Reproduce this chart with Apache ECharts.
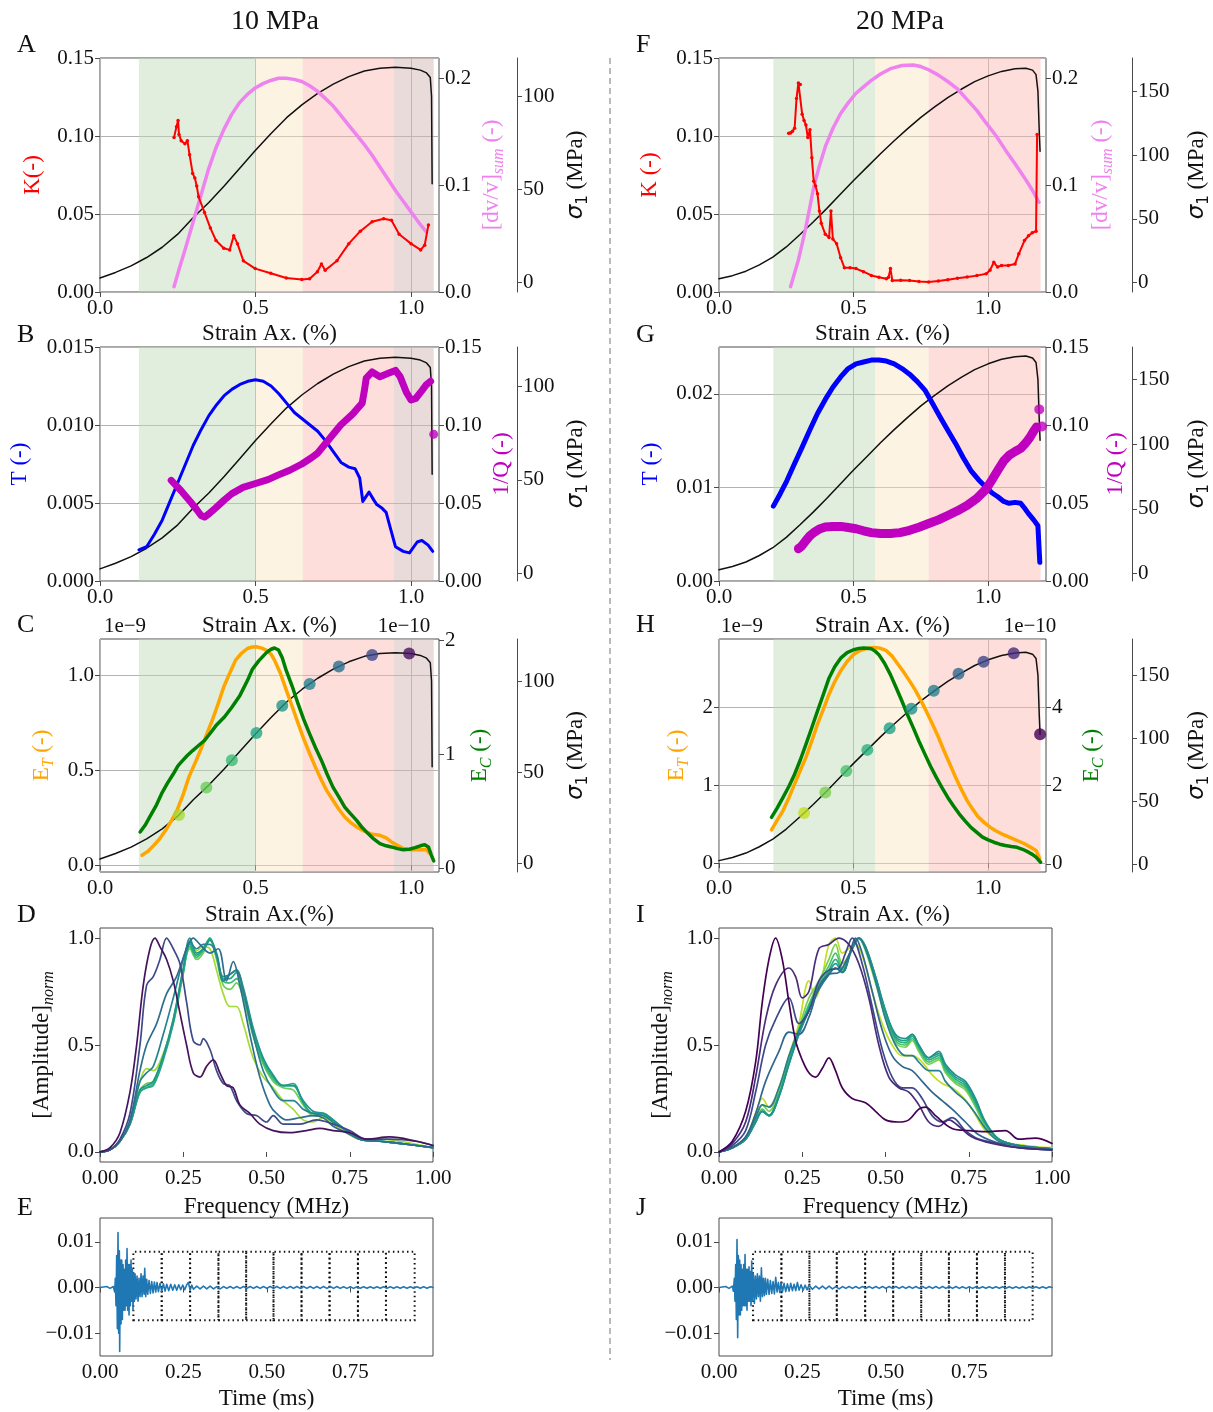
<!DOCTYPE html>
<html><head><meta charset="utf-8">
<script src="https://cdn.jsdelivr.net/npm/echarts@6/dist/echarts.min.js"></script>
<style>html,body{margin:0;padding:0;background:#fff}#c{width:1213px;height:1412px}</style>
</head><body><div id="c"></div>
<script>
// ================= DATA =================
// stress-strain (strain %, sigma1 MPa)
const sig10 = [[0,2.5],[0.05,5.5],[0.1,9],[0.15,13.5],[0.2,19],[0.25,26],[0.3,35],[0.35,43],[0.4,52],[0.45,61.5],[0.5,71],[0.55,80],[0.6,88.5],[0.65,95.5],[0.7,101.5],[0.75,106.5],[0.8,110.5],[0.85,113.5],[0.9,115],[0.95,115.5],[1.0,115],[1.03,114],[1.05,112.5],[1.062,110],[1.066,100],[1.068,53]];
const sig20 = [[0,3],[0.05,5.5],[0.1,9],[0.15,14],[0.2,20],[0.25,28],[0.3,37.5],[0.35,47.5],[0.4,58],[0.45,69],[0.5,80],[0.55,90.5],[0.6,101],[0.65,111],[0.7,120.5],[0.75,129.5],[0.8,137.5],[0.85,145],[0.9,151.5],[0.95,157.5],[1.0,162],[1.05,165.5],[1.1,167.5],[1.14,168],[1.165,166.5],[1.178,163],[1.185,150],[1.19,118],[1.193,103]];
const dots10 = [[0.254,26.6],[0.342,41.7],[0.424,56.6],[0.503,71.5],[0.586,86.5],[0.674,98.4],[0.768,108],[0.875,114.3],[0.994,115.1]];
const dots20 = [[0.316,40.7],[0.395,57],[0.473,74],[0.551,90.7],[0.634,107.8],[0.715,123.2],[0.798,137.5],[0.89,151],[0.983,160.5],[1.095,167.3],[1.193,103]];
// stage spans (strain start, end, stage)
const spans10 = [[0.125,0.5,'g'],[0.5,0.652,'y'],[0.652,0.944,'r'],[0.944,1.073,'b']];
const spans20 = [[0.202,0.58,'g'],[0.58,0.779,'y'],[0.779,1.195,'r']];
// panel A / F
const K10 = [[0.238,0.099],[0.246,0.106],[0.251,0.11],[0.254,0.101],[0.261,0.097],[0.273,0.095],[0.281,0.097],[0.288,0.088],[0.298,0.076],[0.305,0.073],[0.311,0.068],[0.317,0.061],[0.336,0.051],[0.355,0.041],[0.373,0.033],[0.398,0.028],[0.417,0.027],[0.43,0.036],[0.442,0.031],[0.461,0.02],[0.499,0.015],[0.549,0.012],[0.599,0.009],[0.649,0.008],[0.674,0.0085],[0.699,0.013],[0.712,0.018],[0.724,0.014],[0.762,0.02],[0.8,0.031],[0.837,0.039],[0.875,0.045],[0.912,0.047],[0.937,0.046],[0.962,0.037],[1.0,0.031],[1.031,0.027],[1.044,0.03],[1.056,0.043]];
const dvv10 = [[0.238,0.005],[0.255,0.022],[0.273,0.039],[0.292,0.058],[0.311,0.077],[0.33,0.096],[0.348,0.114],[0.373,0.135],[0.398,0.152],[0.423,0.166],[0.448,0.177],[0.474,0.185],[0.499,0.191],[0.524,0.195],[0.549,0.198],[0.574,0.2],[0.599,0.2],[0.624,0.199],[0.649,0.197],[0.674,0.193],[0.699,0.188],[0.725,0.181],[0.75,0.174],[0.775,0.165],[0.8,0.156],[0.825,0.147],[0.85,0.138],[0.875,0.128],[0.9,0.117],[0.925,0.106],[0.95,0.095],[0.975,0.085],[1.0,0.075],[1.025,0.065],[1.05,0.056]];
const K20 = [[0.259,0.1017],[0.266,0.102],[0.273,0.103],[0.281,0.105],[0.288,0.124],[0.295,0.134],[0.302,0.133],[0.309,0.114],[0.316,0.11],[0.323,0.107],[0.33,0.099],[0.338,0.104],[0.345,0.086],[0.352,0.071],[0.359,0.068],[0.366,0.063],[0.373,0.052],[0.38,0.044],[0.395,0.037],[0.409,0.035],[0.416,0.052],[0.423,0.034],[0.437,0.031],[0.452,0.022],[0.466,0.0155],[0.487,0.0155],[0.509,0.015],[0.537,0.013],[0.566,0.0106],[0.594,0.0095],[0.622,0.0085],[0.63,0.0095],[0.637,0.015],[0.644,0.0074],[0.675,0.0075],[0.708,0.0074],[0.743,0.0068],[0.779,0.0064],[0.815,0.007],[0.85,0.0079],[0.886,0.0088],[0.922,0.0096],[0.958,0.0105],[0.993,0.0117],[1.007,0.014],[1.021,0.019],[1.035,0.016],[1.05,0.017],[1.075,0.017],[1.1,0.018],[1.114,0.0245],[1.135,0.033],[1.15,0.036],[1.164,0.038],[1.178,0.039],[1.182,0.101]];
const dvv20 = [[0.266,0.005],[0.28,0.017],[0.295,0.03],[0.309,0.045],[0.323,0.061],[0.338,0.08],[0.352,0.098],[0.373,0.118],[0.395,0.136],[0.423,0.153],[0.452,0.167],[0.48,0.177],[0.509,0.186],[0.537,0.192],[0.566,0.198],[0.6,0.204],[0.637,0.209],[0.68,0.212],[0.722,0.2125],[0.75,0.211],[0.779,0.208],[0.815,0.203],[0.85,0.197],[0.886,0.19],[0.922,0.18],[0.958,0.17],[0.993,0.158],[1.03,0.146],[1.064,0.133],[1.1,0.12],[1.135,0.107],[1.165,0.095],[1.189,0.084]];
// panel B / G
const T10 = [[0.125,0.002],[0.15,0.0022],[0.175,0.003],[0.2,0.0039],[0.225,0.0051],[0.25,0.0063],[0.275,0.0075],[0.3,0.0087],[0.325,0.0097],[0.35,0.0106],[0.375,0.0113],[0.4,0.0119],[0.425,0.0123],[0.45,0.0126],[0.475,0.0128],[0.5,0.0129],[0.525,0.0128],[0.55,0.0125],[0.575,0.012],[0.6,0.0114],[0.625,0.0108],[0.65,0.0104],[0.675,0.01],[0.7,0.0096],[0.725,0.009],[0.75,0.0083],[0.775,0.0076],[0.8,0.0073],[0.82,0.0072],[0.835,0.0066],[0.845,0.0051],[0.865,0.0057],[0.88,0.0052],[0.89,0.0049],[0.905,0.0047],[0.92,0.0044],[0.935,0.0033],[0.95,0.0022],[0.975,0.0019],[0.995,0.0018],[1.02,0.0025],[1.035,0.0026],[1.055,0.0023],[1.07,0.0019]];
const IQ10 = [[0.229,0.0645],[0.26,0.058],[0.29,0.051],[0.31,0.046],[0.325,0.042],[0.336,0.041],[0.35,0.043],[0.373,0.047],[0.4,0.052],[0.424,0.056],[0.46,0.06],[0.5,0.0625],[0.54,0.065],[0.574,0.068],[0.61,0.071],[0.649,0.075],[0.68,0.079],[0.7,0.082],[0.737,0.091],[0.774,0.1],[0.812,0.107],[0.843,0.114],[0.85,0.122],[0.856,0.13],[0.875,0.134],[0.9,0.131],[0.925,0.133],[0.95,0.135],[0.965,0.131],[0.985,0.121],[1.0,0.116],[1.015,0.117],[1.035,0.122],[1.05,0.126],[1.063,0.128]];
const IQ10end = [[1.073,0.094]];
const T20 = [[0.202,0.008],[0.227,0.0093],[0.252,0.0107],[0.28,0.0125],[0.309,0.0143],[0.337,0.0161],[0.366,0.0179],[0.395,0.0194],[0.423,0.0207],[0.452,0.0218],[0.48,0.0227],[0.509,0.0232],[0.537,0.0234],[0.566,0.0236],[0.594,0.0236],[0.622,0.0235],[0.651,0.0232],[0.68,0.0227],[0.708,0.0221],[0.737,0.0213],[0.765,0.0204],[0.793,0.019],[0.822,0.0175],[0.85,0.0161],[0.879,0.0147],[0.907,0.0132],[0.936,0.0118],[0.965,0.0108],[0.993,0.01],[1.015,0.0094],[1.036,0.009],[1.058,0.0085],[1.078,0.0083],[1.1,0.0084],[1.121,0.0083],[1.135,0.0078],[1.15,0.0072],[1.17,0.0065],[1.185,0.0059],[1.192,0.002]];
const IQ20 = [[0.295,0.0207],[0.305,0.022],[0.323,0.026],[0.338,0.029],[0.352,0.031],[0.373,0.0333],[0.395,0.0346],[0.423,0.035],[0.452,0.035],[0.48,0.0343],[0.509,0.0335],[0.537,0.0322],[0.566,0.031],[0.6,0.0305],[0.637,0.0305],[0.672,0.031],[0.708,0.0325],[0.743,0.0345],[0.779,0.0368],[0.815,0.0392],[0.85,0.042],[0.886,0.045],[0.922,0.0485],[0.958,0.053],[0.993,0.059],[1.015,0.065],[1.036,0.071],[1.058,0.077],[1.078,0.0806],[1.1,0.083],[1.121,0.085],[1.14,0.0885],[1.155,0.092],[1.171,0.0966],[1.18,0.0987]];
const IQ20end = [[1.19,0.11],[1.2,0.099]];
// panel C / H (x1e-9 and x1e-10)
const ET10 = [[0.135,0.053],[0.155,0.075],[0.173,0.105],[0.192,0.14],[0.211,0.184],[0.23,0.235],[0.248,0.29],[0.267,0.37],[0.286,0.465],[0.305,0.535],[0.323,0.605],[0.342,0.685],[0.361,0.763],[0.38,0.85],[0.398,0.939],[0.417,1.01],[0.436,1.079],[0.455,1.115],[0.474,1.14],[0.49,1.148],[0.503,1.149],[0.52,1.142],[0.536,1.13],[0.55,1.11],[0.561,1.079],[0.58,1.01],[0.599,0.921],[0.618,0.835],[0.637,0.746],[0.655,0.665],[0.674,0.588],[0.693,0.515],[0.712,0.447],[0.73,0.39],[0.749,0.342],[0.768,0.295],[0.787,0.254],[0.806,0.225],[0.825,0.202],[0.85,0.18],[0.875,0.163],[0.9,0.158],[0.92,0.145],[0.937,0.123],[0.956,0.105],[0.975,0.088],[1.0,0.082],[1.025,0.082],[1.05,0.082],[1.058,0.065]];
const EC10 = [[0.129,0.321],[0.145,0.38],[0.16,0.453],[0.18,0.55],[0.198,0.657],[0.217,0.75],[0.236,0.832],[0.25,0.9],[0.261,0.934],[0.28,0.99],[0.298,1.036],[0.317,1.08],[0.336,1.124],[0.355,1.19],[0.373,1.255],[0.4,1.33],[0.424,1.416],[0.45,1.52],[0.474,1.65],[0.49,1.75],[0.511,1.825],[0.536,1.898],[0.55,1.925],[0.561,1.936],[0.574,1.918],[0.586,1.85],[0.599,1.737],[0.618,1.6],[0.637,1.445],[0.655,1.31],[0.674,1.182],[0.693,1.06],[0.712,0.949],[0.73,0.83],[0.749,0.715],[0.768,0.63],[0.787,0.54],[0.806,0.48],[0.825,0.423],[0.843,0.36],[0.862,0.307],[0.88,0.26],[0.9,0.219],[0.92,0.2],[0.937,0.19],[0.956,0.175],[0.975,0.166],[0.995,0.17],[1.013,0.184],[1.03,0.2],[1.044,0.21],[1.056,0.19],[1.065,0.12],[1.073,0.067]];
const ET20 = [[0.195,0.427],[0.216,0.55],[0.238,0.675],[0.26,0.84],[0.281,1.017],[0.302,1.19],[0.323,1.359],[0.345,1.57],[0.366,1.786],[0.388,1.98],[0.409,2.171],[0.43,2.33],[0.452,2.47],[0.476,2.59],[0.5,2.68],[0.52,2.725],[0.537,2.748],[0.558,2.765],[0.58,2.77],[0.6,2.76],[0.622,2.73],[0.643,2.66],[0.665,2.556],[0.686,2.455],[0.708,2.342],[0.73,2.22],[0.751,2.085],[0.772,1.94],[0.793,1.786],[0.815,1.62],[0.836,1.444],[0.858,1.27],[0.879,1.103],[0.9,0.95],[0.922,0.803],[0.943,0.69],[0.964,0.59],[0.986,0.52],[1.007,0.462],[1.028,0.415],[1.05,0.376],[1.072,0.343],[1.093,0.312],[1.114,0.28],[1.135,0.248],[1.157,0.205],[1.178,0.162],[1.192,0.056]];
const EC20 = [[0.195,1.186],[0.216,1.42],[0.238,1.695],[0.26,1.98],[0.281,2.288],[0.302,2.65],[0.323,3.05],[0.345,3.48],[0.366,3.9],[0.388,4.33],[0.409,4.746],[0.43,5.03],[0.452,5.25],[0.476,5.39],[0.5,5.466],[0.52,5.5],[0.537,5.508],[0.55,5.505],[0.566,5.49],[0.58,5.43],[0.594,5.34],[0.615,5.12],[0.637,4.83],[0.658,4.5],[0.68,4.15],[0.7,3.81],[0.722,3.47],[0.743,3.13],[0.765,2.8],[0.786,2.49],[0.808,2.2],[0.829,1.94],[0.85,1.695],[0.872,1.47],[0.893,1.27],[0.915,1.09],[0.936,0.93],[0.958,0.8],[0.979,0.68],[1.0,0.61],[1.021,0.55],[1.043,0.5],[1.064,0.466],[1.086,0.44],[1.107,0.42],[1.128,0.37],[1.15,0.297],[1.164,0.24],[1.178,0.17],[1.195,0.04]];
// panel D spectra (MHz, normalised amplitude), first window -> last window
const specD = [
 [[0,0],[0.03,0.01],[0.06,0.05],[0.09,0.14],[0.12,0.33],[0.14,0.39],[0.16,0.38],[0.19,0.46],[0.22,0.6],[0.25,0.83],[0.27,0.99],[0.29,0.94],[0.31,0.96],[0.33,0.95],[0.35,0.85],[0.37,0.74],[0.39,0.68],[0.41,0.68],[0.43,0.6],[0.46,0.44],[0.49,0.35],[0.52,0.3],[0.55,0.24],[0.58,0.2],[0.61,0.15],[0.64,0.14],[0.67,0.16],[0.7,0.13],[0.74,0.09],[0.78,0.06],[0.84,0.06],[0.9,0.05],[1.0,0.02]],
 [[0,0],[0.03,0.01],[0.06,0.05],[0.09,0.13],[0.12,0.29],[0.14,0.32],[0.16,0.33],[0.19,0.45],[0.22,0.62],[0.25,0.85],[0.27,0.95],[0.29,0.9],[0.31,0.93],[0.33,1.0],[0.35,0.9],[0.37,0.78],[0.39,0.76],[0.41,0.79],[0.43,0.72],[0.46,0.54],[0.49,0.41],[0.52,0.33],[0.55,0.3],[0.58,0.29],[0.61,0.22],[0.64,0.17],[0.67,0.17],[0.7,0.14],[0.74,0.1],[0.78,0.06],[0.84,0.05],[0.9,0.04],[1.0,0.02]],
 [[0,0],[0.03,0.01],[0.06,0.05],[0.09,0.13],[0.12,0.28],[0.14,0.3],[0.16,0.32],[0.19,0.44],[0.22,0.61],[0.25,0.84],[0.27,0.96],[0.29,0.91],[0.31,0.94],[0.33,0.99],[0.35,0.91],[0.37,0.8],[0.39,0.79],[0.41,0.81],[0.43,0.74],[0.46,0.55],[0.49,0.42],[0.52,0.34],[0.55,0.31],[0.58,0.31],[0.61,0.23],[0.64,0.18],[0.67,0.18],[0.7,0.14],[0.74,0.1],[0.78,0.06],[0.84,0.05],[0.9,0.04],[1.0,0.02]],
 [[0,0],[0.03,0.01],[0.06,0.05],[0.09,0.13],[0.12,0.28],[0.14,0.3],[0.16,0.31],[0.19,0.43],[0.22,0.6],[0.25,0.84],[0.27,0.97],[0.29,0.92],[0.31,0.95],[0.33,1.0],[0.35,0.92],[0.37,0.81],[0.39,0.81],[0.41,0.84],[0.43,0.76],[0.46,0.57],[0.49,0.43],[0.52,0.35],[0.55,0.31],[0.58,0.32],[0.61,0.23],[0.64,0.18],[0.67,0.18],[0.7,0.15],[0.74,0.1],[0.78,0.06],[0.84,0.05],[0.9,0.04],[1.0,0.02]],
 [[0,0],[0.03,0.01],[0.06,0.05],[0.09,0.13],[0.12,0.29],[0.14,0.31],[0.16,0.33],[0.19,0.45],[0.22,0.62],[0.25,0.86],[0.27,1.0],[0.29,0.93],[0.31,0.95],[0.33,0.99],[0.35,0.93],[0.37,0.82],[0.39,0.83],[0.41,0.85],[0.43,0.77],[0.46,0.58],[0.49,0.44],[0.52,0.36],[0.55,0.31],[0.58,0.31],[0.61,0.24],[0.64,0.19],[0.67,0.18],[0.7,0.15],[0.74,0.1],[0.78,0.06],[0.84,0.05],[0.9,0.04],[1.0,0.02]],
 [[0,0],[0.03,0.01],[0.06,0.05],[0.09,0.14],[0.12,0.33],[0.14,0.37],[0.16,0.4],[0.19,0.55],[0.22,0.72],[0.25,0.9],[0.27,0.98],[0.29,0.95],[0.31,0.97],[0.33,0.97],[0.35,0.92],[0.37,0.8],[0.39,0.83],[0.41,0.85],[0.43,0.75],[0.46,0.55],[0.49,0.38],[0.52,0.29],[0.55,0.24],[0.58,0.24],[0.61,0.2],[0.64,0.18],[0.67,0.17],[0.7,0.14],[0.74,0.1],[0.78,0.06],[0.84,0.05],[0.9,0.04],[1.0,0.02]],
 [[0,0],[0.03,0.01],[0.06,0.05],[0.09,0.15],[0.12,0.38],[0.14,0.5],[0.17,0.6],[0.2,0.74],[0.23,0.82],[0.26,0.95],[0.28,1.0],[0.3,0.97],[0.33,0.93],[0.355,0.95],[0.38,0.8],[0.4,0.89],[0.42,0.78],[0.45,0.55],[0.48,0.35],[0.51,0.22],[0.53,0.18],[0.56,0.15],[0.6,0.16],[0.64,0.17],[0.67,0.16],[0.7,0.12],[0.74,0.09],[0.78,0.06],[0.84,0.05],[0.9,0.04],[1.0,0.02]],
 [[0,0],[0.03,0.01],[0.06,0.06],[0.09,0.18],[0.12,0.5],[0.14,0.78],[0.16,0.82],[0.18,0.9],[0.2,1.0],[0.22,0.95],[0.24,0.88],[0.26,0.7],[0.28,0.52],[0.3,0.5],[0.31,0.53],[0.33,0.48],[0.35,0.38],[0.37,0.32],[0.39,0.31],[0.41,0.24],[0.44,0.18],[0.47,0.17],[0.5,0.14],[0.52,0.17],[0.55,0.13],[0.6,0.13],[0.65,0.15],[0.7,0.13],[0.75,0.1],[0.8,0.06],[0.87,0.06],[0.95,0.05],[1.0,0.03]],
 [[0,0],[0.03,0.02],[0.06,0.09],[0.09,0.28],[0.11,0.5],[0.13,0.78],[0.15,0.95],[0.165,1.0],[0.18,0.96],[0.2,0.9],[0.22,0.8],[0.24,0.65],[0.26,0.5],[0.28,0.37],[0.3,0.35],[0.32,0.4],[0.34,0.43],[0.36,0.37],[0.38,0.31],[0.4,0.3],[0.42,0.22],[0.45,0.18],[0.48,0.13],[0.52,0.1],[0.57,0.09],[0.62,0.1],[0.66,0.11],[0.7,0.1],[0.75,0.09],[0.8,0.06],[0.87,0.07],[0.95,0.05],[1.0,0.03]]
];
// panel I spectra
const specI = [
 [[0,0],[0.04,0.02],[0.08,0.07],[0.11,0.18],[0.13,0.25],[0.15,0.21],[0.18,0.3],[0.21,0.45],[0.24,0.6],[0.27,0.8],[0.29,0.72],[0.31,0.82],[0.33,0.97],[0.35,1.0],[0.37,0.93],[0.39,0.95],[0.41,0.97],[0.43,0.92],[0.46,0.75],[0.49,0.6],[0.52,0.5],[0.55,0.45],[0.58,0.45],[0.61,0.42],[0.64,0.36],[0.67,0.32],[0.7,0.3],[0.73,0.26],[0.76,0.2],[0.8,0.1],[0.85,0.05],[0.92,0.03],[1.0,0.02]],
 [[0,0],[0.04,0.02],[0.08,0.06],[0.11,0.15],[0.13,0.22],[0.15,0.19],[0.18,0.28],[0.21,0.44],[0.24,0.58],[0.27,0.72],[0.3,0.8],[0.33,0.9],[0.35,0.97],[0.37,0.88],[0.4,0.95],[0.42,1.0],[0.44,0.94],[0.47,0.79],[0.5,0.63],[0.53,0.51],[0.56,0.49],[0.58,0.52],[0.6,0.47],[0.63,0.41],[0.66,0.43],[0.68,0.37],[0.71,0.32],[0.74,0.29],[0.77,0.21],[0.8,0.12],[0.84,0.06],[0.9,0.03],[1.0,0.015]],
 [[0,0],[0.04,0.02],[0.08,0.06],[0.11,0.14],[0.13,0.2],[0.15,0.17],[0.18,0.27],[0.21,0.43],[0.24,0.57],[0.27,0.69],[0.3,0.79],[0.33,0.87],[0.35,0.93],[0.37,0.86],[0.4,0.95],[0.42,1.0],[0.44,0.95],[0.47,0.8],[0.5,0.64],[0.53,0.52],[0.56,0.5],[0.58,0.53],[0.6,0.48],[0.63,0.42],[0.66,0.44],[0.68,0.38],[0.71,0.33],[0.74,0.3],[0.77,0.22],[0.8,0.13],[0.84,0.06],[0.9,0.03],[1.0,0.015]],
 [[0,0],[0.04,0.02],[0.08,0.06],[0.11,0.14],[0.13,0.19],[0.15,0.17],[0.18,0.26],[0.21,0.42],[0.24,0.56],[0.27,0.68],[0.3,0.78],[0.33,0.85],[0.35,0.9],[0.37,0.85],[0.4,0.95],[0.42,1.0],[0.44,0.95],[0.47,0.81],[0.5,0.65],[0.53,0.53],[0.56,0.51],[0.58,0.54],[0.6,0.49],[0.63,0.43],[0.66,0.45],[0.68,0.39],[0.71,0.34],[0.74,0.31],[0.77,0.23],[0.8,0.13],[0.84,0.06],[0.9,0.03],[1.0,0.015]],
 [[0,0],[0.04,0.02],[0.08,0.06],[0.11,0.14],[0.13,0.19],[0.15,0.17],[0.18,0.26],[0.21,0.41],[0.24,0.55],[0.27,0.67],[0.3,0.77],[0.33,0.84],[0.35,0.88],[0.37,0.84],[0.4,0.96],[0.42,1.0],[0.44,0.96],[0.47,0.82],[0.5,0.66],[0.53,0.54],[0.56,0.52],[0.58,0.55],[0.6,0.5],[0.63,0.44],[0.66,0.46],[0.68,0.4],[0.71,0.35],[0.74,0.32],[0.77,0.24],[0.8,0.14],[0.84,0.06],[0.9,0.03],[1.0,0.015]],
 [[0,0],[0.04,0.02],[0.08,0.06],[0.11,0.14],[0.13,0.19],[0.15,0.17],[0.18,0.26],[0.21,0.41],[0.24,0.55],[0.27,0.66],[0.3,0.76],[0.33,0.83],[0.35,0.86],[0.37,0.84],[0.4,0.96],[0.42,1.0],[0.44,0.96],[0.47,0.82],[0.5,0.66],[0.53,0.55],[0.56,0.53],[0.58,0.55],[0.6,0.5],[0.63,0.44],[0.66,0.47],[0.68,0.41],[0.71,0.36],[0.74,0.33],[0.77,0.25],[0.8,0.14],[0.84,0.06],[0.9,0.03],[1.0,0.015]],
 [[0,0],[0.04,0.02],[0.08,0.07],[0.11,0.16],[0.13,0.22],[0.15,0.21],[0.18,0.3],[0.21,0.45],[0.24,0.57],[0.27,0.66],[0.3,0.76],[0.33,0.83],[0.35,0.86],[0.37,0.84],[0.4,0.95],[0.42,1.0],[0.44,0.95],[0.47,0.8],[0.5,0.62],[0.53,0.5],[0.56,0.45],[0.58,0.45],[0.6,0.42],[0.63,0.38],[0.66,0.38],[0.68,0.33],[0.71,0.28],[0.74,0.24],[0.77,0.18],[0.8,0.11],[0.84,0.05],[0.9,0.03],[1.0,0.015]],
 [[0,0],[0.04,0.02],[0.08,0.07],[0.11,0.18],[0.14,0.33],[0.18,0.47],[0.21,0.56],[0.24,0.55],[0.27,0.63],[0.3,0.77],[0.33,0.83],[0.36,0.84],[0.39,0.92],[0.41,1.0],[0.43,0.93],[0.46,0.75],[0.49,0.57],[0.52,0.45],[0.55,0.4],[0.58,0.38],[0.61,0.33],[0.64,0.28],[0.67,0.24],[0.7,0.2],[0.74,0.14],[0.78,0.08],[0.84,0.04],[0.9,0.02],[1.0,0.01]],
 [[0,0],[0.04,0.03],[0.08,0.1],[0.11,0.28],[0.14,0.5],[0.17,0.62],[0.21,0.72],[0.24,0.6],[0.27,0.66],[0.3,0.8],[0.33,0.85],[0.36,0.86],[0.38,0.93],[0.4,1.0],[0.43,0.88],[0.46,0.68],[0.49,0.48],[0.52,0.35],[0.55,0.3],[0.58,0.3],[0.61,0.25],[0.64,0.17],[0.67,0.14],[0.7,0.16],[0.74,0.1],[0.78,0.06],[0.84,0.04],[0.9,0.02],[1.0,0.01]],
 [[0,0],[0.04,0.04],[0.08,0.14],[0.11,0.35],[0.14,0.62],[0.17,0.78],[0.21,0.86],[0.23,0.82],[0.25,0.72],[0.27,0.75],[0.3,0.95],[0.33,0.97],[0.36,1.0],[0.39,0.97],[0.42,0.88],[0.45,0.72],[0.48,0.5],[0.51,0.35],[0.54,0.3],[0.57,0.28],[0.6,0.22],[0.63,0.14],[0.66,0.12],[0.69,0.15],[0.72,0.12],[0.76,0.07],[0.82,0.04],[0.9,0.02],[1.0,0.01]],
 [[0,0],[0.04,0.05],[0.08,0.19],[0.11,0.42],[0.13,0.7],[0.15,0.9],[0.17,1.0],[0.19,0.9],[0.21,0.7],[0.23,0.52],[0.25,0.43],[0.27,0.37],[0.29,0.35],[0.31,0.39],[0.33,0.44],[0.35,0.38],[0.37,0.3],[0.4,0.25],[0.44,0.23],[0.47,0.19],[0.5,0.15],[0.54,0.14],[0.57,0.15],[0.6,0.2],[0.62,0.21],[0.65,0.17],[0.7,0.11],[0.75,0.1],[0.8,0.095],[0.86,0.1],[0.9,0.06],[0.95,0.065],[1.0,0.04]]
];
// panel E / J waveforms (ms, amplitude)
const waveTail = [[0.28,-0.0004],[0.29,0.0003],[0.3,-0.0003],[0.31,0.0003],[0.32,-0.0003],[0.33,0.0003],[0.34,-0.0003],[0.35,0.0002],[0.36,-0.0003],[0.37,0.0002],[0.38,-0.0002],[0.39,0.0002],[0.4,-0.0002],[0.41,0.0002],[0.42,-0.0002],[0.43,0.0002],[0.44,-0.0002],[0.45,0.0002],[0.46,-0.0002],[0.47,0.0002],[0.48,-0.0002],[0.49,0.0002],[0.5,-0.0002],[0.51,0.0002],[0.52,-0.0002],[0.53,0.0002],[0.54,-0.0002],[0.55,0.0002],[0.56,-0.0002],[0.57,0.0002],[0.58,-0.0002],[0.59,0.0002],[0.6,-0.0002],[0.61,0.0002],[0.62,-0.0002],[0.63,0.0002],[0.64,-0.0002],[0.65,0.0002],[0.66,-0.0002],[0.67,0.0002],[0.68,-0.0002],[0.69,0.0002],[0.7,-0.0002],[0.71,0.0002],[0.72,-0.0002],[0.73,0.00015],[0.74,-0.0002],[0.75,0.00015],[0.76,-0.0002],[0.77,0.00015],[0.78,-0.00015],[0.79,0.00015],[0.8,-0.00015],[0.81,0.00015],[0.82,-0.00015],[0.83,0.00015],[0.84,-0.00015],[0.85,0.00015],[0.86,-0.00015],[0.87,0.00015],[0.88,-0.00015],[0.89,0.00015],[0.9,-0.00015],[0.91,0.00015],[0.92,-0.00015],[0.93,0.00015],[0.94,-0.00015],[0.95,0.00015],[0.96,-0.00015],[0.97,0.00015],[0.98,-0.00015],[0.99,0.00015],[0.998,0]];
const waveE = [[0,0],[0.02,0.0002],[0.03,-0.0002],[0.04,0.0002],[0.044,-0.001],[0.046,0.002],[0.048,-0.004],[0.05,0.007],[0.052,-0.009],[0.054,0.012],[0.056,-0.01],[0.058,0.008],[0.059,-0.014],[0.061,0.006],[0.063,-0.008],[0.065,0.006],[0.067,-0.007],[0.069,0.005],[0.071,-0.005],[0.073,0.004],[0.075,-0.005],[0.077,0.006],[0.079,-0.004],[0.081,0.0085],[0.083,-0.005],[0.085,0.005],[0.087,-0.006],[0.089,0.005],[0.091,-0.004],[0.093,0.006],[0.095,-0.003],[0.097,0.004],[0.099,-0.005],[0.101,0.003],[0.103,-0.003],[0.105,0.003],[0.108,-0.0025],[0.111,0.0025],[0.114,-0.003],[0.117,0.002],[0.12,-0.002],[0.123,0.003],[0.126,-0.002],[0.129,0.0025],[0.132,-0.0015],[0.134,0.0042],[0.137,-0.002],[0.14,0.0018],[0.143,-0.0015],[0.147,0.0015],[0.151,-0.0013],[0.155,0.0013],[0.159,-0.0012],[0.163,0.0012],[0.167,-0.001],[0.171,0.0011],[0.175,-0.0009],[0.18,0.0009],[0.185,-0.0008],[0.19,0.0008],[0.195,-0.0008],[0.2,0.0007],[0.206,-0.0007],[0.212,0.0007],[0.218,-0.0006],[0.224,0.0006],[0.23,-0.0006],[0.236,0.0006],[0.242,-0.0005],[0.248,0.0005],[0.254,-0.0005],[0.26,0.0006],[0.265,0.0011],[0.27,-0.0006],[0.275,0.0005]];
const waveJ = [[0,0],[0.02,0.0002],[0.03,-0.0002],[0.04,0.0003],[0.043,-0.0008],[0.046,0.002],[0.048,-0.003],[0.05,0.005],[0.052,-0.007],[0.054,0.0105],[0.056,-0.011],[0.058,0.007],[0.06,-0.006],[0.062,0.006],[0.064,-0.006],[0.066,0.005],[0.068,-0.005],[0.07,0.004],[0.072,-0.004],[0.074,0.005],[0.076,-0.004],[0.078,0.0072],[0.08,-0.004],[0.082,0.004],[0.084,-0.005],[0.086,0.004],[0.088,-0.003],[0.09,0.0045],[0.092,-0.003],[0.094,0.0035],[0.096,-0.004],[0.098,0.0058],[0.1,-0.003],[0.103,0.003],[0.106,-0.0035],[0.109,0.0025],[0.112,-0.0025],[0.115,0.003],[0.118,-0.002],[0.121,0.0025],[0.124,-0.003],[0.127,0.0043],[0.13,-0.002],[0.133,0.002],[0.136,-0.0018],[0.139,0.002],[0.142,-0.0015],[0.146,0.0018],[0.15,-0.0015],[0.154,0.0015],[0.158,-0.0013],[0.162,0.0013],[0.166,-0.0014],[0.17,0.0022],[0.174,-0.001],[0.178,0.0011],[0.182,-0.0011],[0.186,0.001],[0.19,-0.001],[0.195,0.0009],[0.2,-0.0009],[0.205,0.0008],[0.21,-0.0008],[0.215,0.0009],[0.22,-0.0007],[0.225,0.0007],[0.23,-0.0007],[0.235,0.0011],[0.24,-0.0006],[0.246,0.0006],[0.252,-0.0006],[0.258,0.0005],[0.264,-0.0005],[0.27,0.0005]];
const winE = [0.100,0.185,0.270,0.355,0.438,0.520,0.604,0.688,0.773,0.857,0.943];
const winJ = [0.102,0.187,0.271,0.353,0.438,0.522,0.606,0.689,0.773,0.857,0.940];
const winY = [-0.0072,0.0078];
// tick values
const tStrain = [0,0.5,1.0];
const tK = [0,0.05,0.1,0.15], tDvv = [0,0.1,0.2], tSig10 = [0,50,100], tSig20 = [0,50,100,150];
const tT10 = [0,0.005,0.01,0.015], tT20 = [0,0.01,0.02], tIQ = [0,0.05,0.1,0.15];
const tET10 = [0,0.5,1.0], tEC10 = [0,1,2], tET20 = [0,1,2], tEC20 = [0,2,4];
const tAmp = [0,0.5,1.0], tFreq = [0,0.25,0.5,0.75,1.0], tTime = [0,0.25,0.5,0.75], tWave = [-0.01,0,0.01];

// ================= STYLE / BUILD =================
const FONT = 'Liberation Serif';
const INK = '#4a4a4a';
const GRIDC = '#b2b2b2';
const TICKFS = 21, NAMEFS = 23;
const spanColor = {g:'rgba(190,218,180,0.45)', y:'rgba(250,228,190,0.45)', r:'rgba(250,182,176,0.45)', b:'rgba(214,184,184,0.5)'};
const pal10 = ['#a5db36','#6ccd5a','#3bbb75','#22a884','#1f968b','#26828e','#2e6e8e','#3e4a89','#46145e'];
const pal20 = ['#c2df23','#7ad151','#4ac16d','#2ab07f','#1fa187','#21918c','#277f8e','#31668e','#3e4989','#472d7b','#440154'];

const grids=[], xAxes=[], yAxes=[], series=[];
function fmt(dec){ return v => { if (Math.abs(v)<1e-12) v=0; return (v<0?'\u2212':'')+Math.abs(v).toFixed(dec); }; }
function rich(c){ return {
  n:{fontFamily:FONT,fontSize:NAMEFS,color:c,lineHeight:30,verticalAlign:'middle'},
  s:{fontFamily:FONT,fontSize:16,fontStyle:'italic',color:c,lineHeight:15,verticalAlign:'bottom'},
  g:{fontFamily:'DejaVu Sans',fontSize:23,fontStyle:'italic',color:c,lineHeight:30,verticalAlign:'middle'},
  u:{fontFamily:'DejaVu Sans',fontSize:15,color:c,lineHeight:15,verticalAlign:'bottom'}}; }
function addGrid(l,t,w,h){ grids.push({left:l,top:t,width:w,height:h,show:true,borderColor:INK,borderWidth:1,backgroundColor:'rgba(0,0,0,0)'}); return grids.length-1; }
function addX(g,min,max,ticks,dec,name,showGrid,gap){
  xAxes.push({type:'value',gridIndex:g,min,max,
    axisLine:{show:false},
    axisTick:{show:true,length:5,lineStyle:{color:INK},customValues:ticks},
    axisLabel:{customValues:ticks,formatter:fmt(dec),color:'#111',fontFamily:FONT,fontSize:TICKFS,margin:6},
    splitLine:{show:showGrid,lineStyle:{color:GRIDC,width:1}},
    name,nameLocation:'middle',nameGap:gap,nameTextStyle:{fontFamily:FONT,fontSize:NAMEFS,color:'#111'}});
  return xAxes.length-1; }
function addY(o){
  const c=o.nc||'#111';
  yAxes.push({type:'value',gridIndex:o.g,min:o.min,max:o.max,position:o.pos||'left',offset:o.off||0,
    axisLine:{show:!!o.line,onZero:false,lineStyle:{color:INK}},
    axisTick:{show:true,length:5,lineStyle:{color:INK},customValues:o.ticks},
    axisLabel:{customValues:o.ticks,formatter:fmt(o.dec),color:'#111',fontFamily:FONT,fontSize:TICKFS,margin:6},
    splitLine:{show:!!o.grid,lineStyle:{color:GRIDC,width:1}},
    name:o.name||'',nameLocation:'middle',nameRotate:90,nameGap:o.gap||40,
    nameTextStyle:{fontFamily:FONT,fontSize:NAMEFS,color:c,rich:rich(c)}});
  return yAxes.length-1; }
function line(x,y,data,color,w,extra){
  return Object.assign({type:'line',xAxisIndex:x,yAxisIndex:y,data,symbol:'none',showSymbol:false,
    lineStyle:{color,width:w,cap:'round',join:'round'},itemStyle:{color},silent:true,animation:false},extra||{}); }
function spanArea(sp){ return {silent:true,data:sp.map(s=>[{xAxis:s[0],itemStyle:{color:spanColor[s[2]]}},{xAxis:s[1]}])}; }
const SIGNAME = '{g|σ}{u|1}{n| (MPa)}';

function stressPanel(cfg){
  const g = addGrid(cfg.left,cfg.top,cfg.w,cfg.h);
  const x = addX(g,0,cfg.xmax,tStrain,1,cfg.xname,true,cfg.xgap);
  const yl = addY({g,min:cfg.l.min,max:cfg.l.max,ticks:cfg.l.ticks,dec:cfg.l.dec,grid:true,name:cfg.l.name,nc:cfg.l.c,gap:cfg.l.gap});
  const yr = addY({g,min:cfg.r.min,max:cfg.r.max,ticks:cfg.r.ticks,dec:cfg.r.dec,pos:'right',name:cfg.r.name,nc:cfg.r.c,gap:cfg.r.gap});
  const ys = addY({g,min:cfg.s.min,max:cfg.s.max,ticks:cfg.s.ticks,dec:0,pos:'right',off:cfg.s.off,line:true,name:SIGNAME,nc:'#111',gap:cfg.s.gap});
  series.push(line(x,ys,cfg.sig,'#111',1.5,{markArea:spanArea(cfg.spans),z:2}));
  return {x,yl,yr,ys};
}

// ---- layout
const LX1=100, W1=339, LX2=719, W2=333, WD=333;
const TOPS=[58,347,639,928,1218], HS=[234,234,233,234,138];

// A
let p = stressPanel({left:LX1,top:TOPS[0],w:W1,h:HS[0],xmax:1.09,xname:'Strain Ax. (%)',xgap:30,spans:spans10,sig:sig10,
  l:{min:0,max:0.15,ticks:tK,dec:2,name:'{n|K(-)}',c:'#ff0000',gap:52},
  r:{min:0,max:0.219,ticks:tDvv,dec:1,name:'{n|[dv/v]}{s|sum}{n| (-)}',c:'#ee82ee',gap:38},
  s:{min:-5,max:120.5,ticks:tSig10,off:78,gap:44}});
series.push(line(p.x,p.yl,K10,'#ff0000',2,{symbol:'circle',showSymbol:true,symbolSize:3.5,z:4}));
series.push(line(p.x,p.yr,dvv10,'#ee82ee',3.5,{z:3}));
// B
p = stressPanel({left:LX1,top:TOPS[1],w:W1,h:HS[1],xmax:1.09,xname:'Strain Ax. (%)',xgap:33,spans:spans10,sig:sig10,
  l:{min:0,max:0.015,ticks:tT10,dec:3,name:'{n|T (-)}',c:'#0000ff',gap:65},
  r:{min:0,max:0.15,ticks:tIQ,dec:2,name:'{n|1/Q (-)}',c:'#bf00bf',gap:48},
  s:{min:-4,max:121,ticks:tSig10,off:78,gap:44}});
series.push(line(p.x,p.yl,T10,'#0000ff',3,{z:3}));
series.push(line(p.x,p.yr,IQ10,'#bf00bf',7,{z:4}));
series.push({type:'scatter',xAxisIndex:p.x,yAxisIndex:p.yr,data:IQ10end,symbolSize:9,itemStyle:{color:'#bf00bf'},silent:true,animation:false,z:4});
// C
p = stressPanel({left:LX1,top:TOPS[2],w:W1,h:HS[2],xmax:1.09,xname:'Strain Ax.(%)',xgap:31,spans:spans10,sig:sig10,
  l:{min:-0.035,max:1.19,ticks:tET10,dec:1,name:'{n|E}{s|T}{n| (-)}',c:'#ffa500',gap:43},
  r:{min:-0.03,max:2.015,ticks:tEC10,dec:0,name:'{n|E}{s|C}{n| (-)}',c:'#008000',gap:26},
  s:{min:-4.6,max:123,ticks:tSig10,off:78,gap:44}});
series.push(line(p.x,p.yl,ET10,'#ffa500',3.5,{z:3}));
series.push(line(p.x,p.yr,EC10,'#008000',3.5,{z:3}));
series.push({type:'scatter',xAxisIndex:p.x,yAxisIndex:p.ys,data:dots10.map((d,i)=>({value:d,itemStyle:{color:pal10[i]}})),symbolSize:12,silent:true,animation:false,z:5});

// F
p = stressPanel({left:LX2,top:TOPS[0],w:W2,h:HS[0],xmax:1.215,xname:'Strain Ax. (%)',xgap:30,spans:spans20,sig:sig20,
  l:{min:0,max:0.15,ticks:tK,dec:2,name:'{n|K (-)}',c:'#ff0000',gap:54},
  r:{min:0,max:0.219,ticks:tDvv,dec:1,name:'{n|[dv/v]}{s|sum}{n| (-)}',c:'#ee82ee',gap:40},
  s:{min:-7.3,max:176,ticks:tSig20,off:86,gap:50}});
series.push(line(p.x,p.yl,K20,'#ff0000',2,{symbol:'circle',showSymbol:true,symbolSize:3.5,z:4}));
series.push(line(p.x,p.yr,dvv20,'#ee82ee',3.5,{z:3}));
// G
p = stressPanel({left:LX2,top:TOPS[1],w:W2,h:HS[1],xmax:1.215,xname:'Strain Ax. (%)',xgap:33,spans:spans20,sig:sig20,
  l:{min:0,max:0.025,ticks:tT20,dec:2,name:'{n|T (-)}',c:'#0000ff',gap:53},
  r:{min:0,max:0.15,ticks:tIQ,dec:2,name:'{n|1/Q (-)}',c:'#bf00bf',gap:55},
  s:{min:-5.7,max:175,ticks:tSig20,off:86,gap:50}});
series.push(line(p.x,p.yl,T20,'#0000ff',5,{z:3}));
series.push(line(p.x,p.yr,IQ20,'#bf00bf',9,{z:4}));
series.push({type:'scatter',xAxisIndex:p.x,yAxisIndex:p.yr,data:IQ20end,symbolSize:10,itemStyle:{color:'#bf00bf'},silent:true,animation:false,z:4});
// H
p = stressPanel({left:LX2,top:TOPS[2],w:W2,h:HS[2],xmax:1.215,xname:'Strain Ax. (%)',xgap:31,spans:spans20,sig:sig20,
  l:{min:-0.115,max:2.88,ticks:tET20,dec:0,name:'{n|E}{s|T}{n| (-)}',c:'#ffa500',gap:27},
  r:{min:-0.21,max:5.74,ticks:tEC20,dec:0,name:'{n|E}{s|C}{n| (-)}',c:'#008000',gap:31},
  s:{min:-6,max:178.5,ticks:tSig20,off:86,gap:50}});
series.push(line(p.x,p.yl,ET20,'#ffa500',3.5,{z:3}));
series.push(line(p.x,p.yr,EC20,'#008000',3.5,{z:3}));
series.push({type:'scatter',xAxisIndex:p.x,yAxisIndex:p.ys,data:dots20.map((d,i)=>({value:d,itemStyle:{color:pal20[i]}})),symbolSize:12,silent:true,animation:false,z:5});

// D / I spectra
function specPanel(left,specs,pal,gapY){
  const g = addGrid(left,TOPS[3],WD,HS[3]);
  const x = addX(g,0,1,tFreq,2,'Frequency (MHz)',false,33);
  const y = addY({g,min:-0.047,max:1.047,ticks:tAmp,dec:1,name:'{n|[Amplitude]}{s|norm}',gap:gapY});
  specs.forEach((s,i)=>series.push(line(x,y,s,pal[i],1.7,{smooth:0.35,z:3+i*0.01})));
}
specPanel(LX1,specD,pal10,43);
specPanel(LX2,specI,pal20,43);

// E / J waveforms
function wavePanel(left,wave,win){
  const g = addGrid(left,TOPS[4],WD,HS[4]);
  const x = addX(g,0,0.998,tTime,2,'Time (ms)',false,31);
  const y = addY({g,min:-0.015,max:0.0152,ticks:tWave,dec:2});
  series.push(line(x,y,wave.concat(waveTail),'#1f77b4',1.6,{z:3}));
  const boxes=[]; for(let i=0;i<win.length-1;i++) boxes.push([{xAxis:win[i],yAxis:winY[0]},{xAxis:win[i+1],yAxis:winY[1]}]);
  series.push(line(x,y,[[win[0],winY[0]],[win[win.length-1],winY[1]]],'rgba(0,0,0,0)',0,{z:6,
    markArea:{silent:true,itemStyle:{color:'rgba(0,0,0,0)',borderColor:'#111',borderWidth:2,borderType:[1.5,3.2]},data:boxes}}));
}
wavePanel(LX1,waveE,winE);
wavePanel(LX2,waveJ,winJ);

// ---- text
const T = (x,y,text,size,align)=>({type:'text',x,y,silent:true,style:{text,fontFamily:FONT,fontSize:size,fill:'#111',align:align||'center',verticalAlign:'middle'}});
const graphic = [
  T(275,22,'10 MPa',28), T(900,22,'20 MPa',28),
  T(17,45,'A',26,'left'),T(17,335,'B',26,'left'),T(17,625,'C',26,'left'),T(17,915,'D',26,'left'),T(17,1208,'E',26,'left'),
  T(636,45,'F',26,'left'),T(636,335,'G',26,'left'),T(636,625,'H',26,'left'),T(636,915,'I',26,'left'),T(636,1208,'J',26,'left'),
  T(125,626,'1e\u22129',21),T(404,626,'1e\u221210',21),T(742,626,'1e\u22129',21),T(1030,626,'1e\u221210',21),
  {type:'line',silent:true,shape:{x1:610,y1:58,x2:610,y2:1360},style:{stroke:'#777',lineWidth:1,lineDash:[6,4]}}
];

const chart = echarts.init(document.getElementById('c'),null,{renderer:'canvas'});
chart.setOption({animation:false,backgroundColor:'#fff',grid:grids,xAxis:xAxes,yAxis:yAxes,series,graphic});
</script></body></html>
